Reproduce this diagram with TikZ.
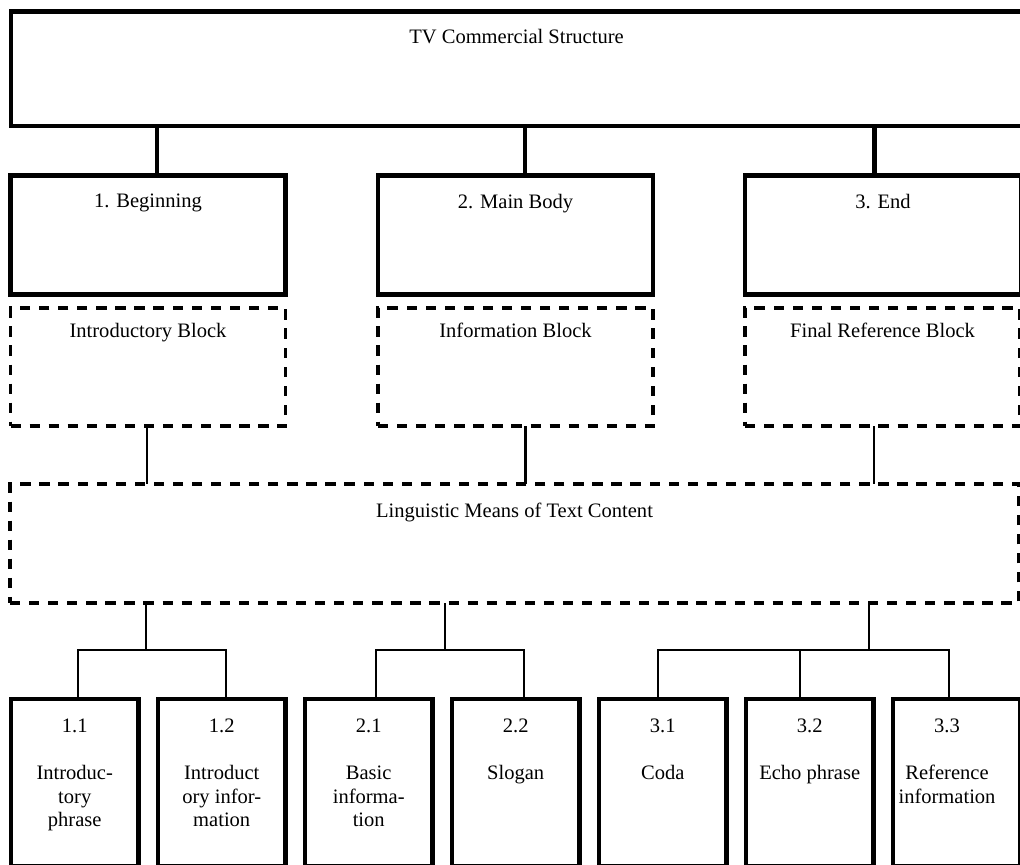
\documentclass[tikz,border=0pt]{standalone}
\usepackage{fontspec}
\setmainfont{Liberation Serif}

\tikzset{
  every node/.append style={font=\fontsize{15.4}{17.6}\selectfont},
  heavybox/.style={draw, line width=3.5pt, inner sep=0pt, outer sep=0pt, anchor=north west},
  dashbox/.style={draw, line width=2.6pt, dash pattern=on 7.7pt off 6.6pt, inner sep=0pt, outer sep=0pt, anchor=north west},
  leafbox/.style={heavybox, minimum width=95.6pt, minimum height=125.25pt},
  inlabel/.style={anchor=north, inner sep=0pt, align=center},
  stem/.style={line width=3.2pt},
  branch/.style={line width=2pt},
}

\begin{document}
\begin{tikzpicture}[x=0.75pt, y=-0.75pt]
  %tikz  structure of a TV commercial
    \useasboundingbox (0,0) rectangle (1020,864);
    \clip (0,0) rectangle (1020,864);

    \node[heavybox, minimum width=758.25pt, minimum height=85.9pt,
      label={[inlabel, yshift=-12.75pt]north:TV Commercial Structure}] (top) at (11,11.5) {};

    \node[heavybox, minimum width=206.25pt, minimum height=89.25pt,
      label={[inlabel, yshift=-13.9pt]north:1. Beginning}] (beg) at (10.5,175.5) {};
    \node[heavybox, minimum width=206.25pt, minimum height=89.25pt,
      label={[inlabel, yshift=-13.9pt]north:2. Main Body}] (body) at (378,175.5) {};
    \node[heavybox, minimum width=207pt, minimum height=89.25pt,
      label={[inlabel, yshift=-13.9pt]north:3. End}] (fin) at (745,175.5) {};

    \draw[stem] ([xshift=6.75pt]beg.north) -- ([xshift=6.75pt]beg.north |- top.south);
    \draw[stem] ([xshift=7.1pt]body.north) -- ([xshift=7.1pt]body.north |- top.south);
    \draw[stem] ([xshift=-6.4pt]fin.north) -- ([xshift=-6.4pt]fin.north |- top.south);

    \node[dashbox, minimum width=206.25pt, minimum height=88.5pt,
      label={[inlabel, yshift=-11.25pt]north:Introductory Block}] (intro) at (10.5,308) {};
    \node[dashbox, minimum width=206.25pt, minimum height=88.5pt,
      label={[inlabel, yshift=-11.25pt]north:Information Block}] (info) at (378,308) {};
    \node[dashbox, minimum width=206.25pt, minimum height=88.5pt,
      label={[inlabel, yshift=-11.25pt]north:Final Reference Block}] (final) at (745,308) {};

    \node[dashbox, minimum width=756.75pt, minimum height=89.25pt,
      label={[inlabel, yshift=-14.25pt]north:Linguistic Means of Text Content}] (ling) at (10,484) {};

    \draw[branch] ([xshift=-0.75pt]intro.south) -- ([xshift=-0.75pt]intro.south |- ling.north);
    \draw[branch] ([xshift=7.5pt]info.south) -- ([xshift=7.5pt]info.south |- ling.north);
    \draw[branch] ([xshift=-6.4pt]final.south) -- ([xshift=-6.4pt]final.south |- ling.north);

    \node[leafbox, label={[inlabel, yshift=-15pt]north:{1.1\\[17.6pt]Introduc-\\tory\\phrase}}] (l11) at (11,699) {};
    \node[leafbox, label={[inlabel, yshift=-15pt]north:{1.2\\[17.6pt]Introduct\\ory infor-\\mation}}] (l12) at (158,699) {};
    \node[leafbox, label={[inlabel, yshift=-15pt]north:{2.1\\[17.6pt]Basic\\informa-\\tion}}] (l21) at (305,699) {};
    \node[leafbox, label={[inlabel, yshift=-15pt]north:{2.2\\[17.6pt]Slogan}}] (l22) at (452,699) {};
    \node[leafbox, label={[inlabel, yshift=-15pt]north:{3.1\\[17.6pt]Coda}}] (l31) at (599,699) {};
    \node[leafbox, label={[inlabel, yshift=-15pt]north:{3.2\\[17.6pt]Echo phrase}}] (l32) at (746,699) {};
    \node[leafbox, label={[inlabel, yshift=-15pt, xshift=-7.3pt]north:{3.3\\[17.6pt]Reference\\information}}] (l33) at (893,699) {};

    \coordinate (j1) at (146,650);
    \coordinate (j2) at (445,650);
    \coordinate (j3) at (869,650);
    \draw[branch] (ling.south -| j1) -- (j1);
    \draw[branch] (ling.south -| j2) -- (j2);
    \draw[branch] (ling.south -| j3) -- (j3);
    \draw[branch] ([xshift=2.4pt]l11.north) |- (j1) -| ([xshift=3.2pt]l12.north);
    \draw[branch] ([xshift=5.4pt]l21.north) |- (j2) -| ([xshift=6.2pt]l22.north);
    \draw[branch] ([xshift=-3.6pt]l31.north) |- (j3) -| ([xshift=-5.8pt]l33.north);
    \draw[branch] ([xshift=-7.3pt]l32.north) -- ([xshift=-7.3pt]l32.north |- j3);
  \end{tikzpicture}
\end{document}
